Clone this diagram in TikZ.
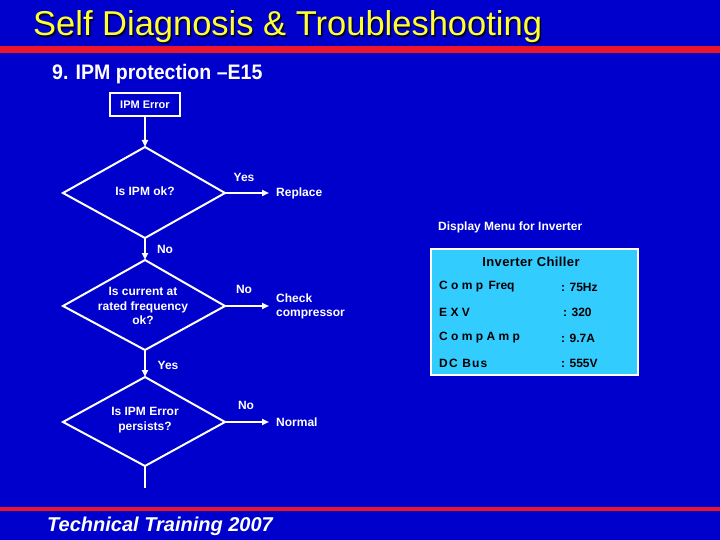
\documentclass[tikz,border=0pt]{standalone}
\usepackage{fontspec}
\setmainfont{Liberation Sans}
\usetikzlibrary{arrows.meta,shapes.geometric}
\definecolor{bgblue}{RGB}{0,0,204}
\definecolor{barred}{RGB}{235,20,40}
\definecolor{ttlyellow}{RGB}{255,255,51}
\definecolor{panelcyan}{RGB}{51,204,255}
\newcommand{\shadowtext}[2]{\makebox[0pt][l]{\hspace{1.5pt}\raisebox{-1.5pt}{\textcolor{black!80!bgblue}{#2}}}\textcolor{#1}{#2}}
\tikzset{
  x=1pt,y=-1pt,
  lbl/.style={text=white,font=\fontsize{12}{14}\selectfont\bfseries,inner sep=0pt},
  dtext/.style={text=white,font=\fontsize{12}{14.5}\selectfont\bfseries,align=center,inner sep=0pt},
  dia/.style={draw=white,line width=2pt},
  flow/.style={draw=white,line width=2pt,-{Triangle[length=7pt,width=6pt]}},
  plain/.style={draw=white,line width=2pt},
  ptext/.style={text=black,font=\fontsize{12}{14}\selectfont\bfseries,inner sep=0pt,anchor=west},
}
\begin{document}
\begin{tikzpicture}
\fill[bgblue] (0,0) rectangle (720,540);
\useasboundingbox (0,0) rectangle (720,540);
% bars
\fill[barred] (0,46) rectangle (720,53);
\fill[barred] (0,507) rectangle (720,511);
% title
\node[anchor=base west,inner sep=0pt,font=\fontsize{34.5}{38}\selectfont] (title) at (33,36) {\shadowtext{ttlyellow}{Self Diagnosis \& Troubleshooting}};
\node[anchor=base west,inner sep=0pt,text=white,font=\fontsize{21}{23}\selectfont\bfseries] (sub) at (52,80) {\scalebox{0.93}[1]{9. IPM protection –E15}};
% start box
\node[draw=white,line width=1.5pt,minimum width=70pt,minimum height=23pt,inner sep=0pt,text=white,font=\fontsize{11}{13}\selectfont\bfseries] (err) at (145,104.5) {IPM Error};
% diamonds
\coordinate (d1t) at (145,147); \coordinate (d1r) at (225,193); \coordinate (d1b) at (145,238); \coordinate (d1l) at (63,193);
\draw[dia] (d1t) -- (d1r) -- (d1b) -- (d1l) -- cycle;
\node[dtext] (q1) at (145,191) {Is IPM ok?};
\coordinate (d2t) at (145,260); \coordinate (d2r) at (225,306); \coordinate (d2b) at (145,350); \coordinate (d2l) at (63,306);
\draw[dia] (d2t) -- (d2r) -- (d2b) -- (d2l) -- cycle;
\node[dtext] (q2) at (143,306) {Is current at\\rated frequency\\ok?};
\coordinate (d3t) at (145,377); \coordinate (d3r) at (225,422); \coordinate (d3b) at (145,466); \coordinate (d3l) at (63,422);
\draw[dia] (d3t) -- (d3r) -- (d3b) -- (d3l) -- cycle;
\node[dtext] (q3) at (145,420) {Is IPM Error\\persists?};
\coordinate (tail) at (145,488);
% outcomes
\node[lbl,anchor=west] (rep) at (276,193) {Replace};
\node[lbl,anchor=west,align=left] (chk) at (276,306) {Check\\compressor};
\node[lbl,anchor=west] (nor) at (276,422) {Normal};
% connectors
\draw[flow] (err.south) -- (d1t);
\draw[flow] (d1r) -- ([xshift=-7pt]rep.west);
\draw[flow] (d1b) -- (d2t);
\draw[flow] (d2r) -- ([xshift=-7pt]rep.west |- d2r);
\draw[flow] (d2b) -- (d3t);
\draw[flow] (d3r) -- ([xshift=-7pt]nor.west);
\draw[plain] (d3b) -- (tail);
% labels
\node[lbl] (y1) at (244,177) {Yes};
\node[lbl] (n1) at (165,249) {No};
\node[lbl] (n2) at (244,289) {No};
\node[lbl] (y2) at (168,365) {Yes};
\node[lbl] (n3) at (246,405) {No};
% panel
\node[lbl,anchor=west] (dm) at (438,227) {Display Menu for Inverter};
\fill[panelcyan,draw=white,line width=2pt] (431,249) rectangle (638,375);
\node[text=black,font=\fontsize{13}{15}\selectfont\bfseries\addfontfeature{LetterSpace=3}\bfseries,inner sep=0pt] (ic) at (531,262) {Inverter Chiller};
\node[ptext] (r1) at (439,287) {C o m p \,Freq};
\node[ptext] (v1) at (561,287) {: 75Hz};
\node[ptext] (r2) at (439,312) {E X V};
\node[ptext] (v2) at (563,312) {: 320};
\node[ptext] (r3) at (439,338) {C o m p A m p};
\node[ptext] (v3) at (561,338) {: 9.7A};
\node[ptext] (r4) at (439,363) {\addfontfeature{LetterSpace=10}DC Bus};
\node[ptext] (v4) at (561,363) {: 555V};
% footer
\node[anchor=base west,inner sep=0pt,text=white,font=\fontsize{20}{22}\selectfont\bfseries\itshape] (foot) at (47,531) {Technical Training 2007};
\end{tikzpicture}
\end{document}
